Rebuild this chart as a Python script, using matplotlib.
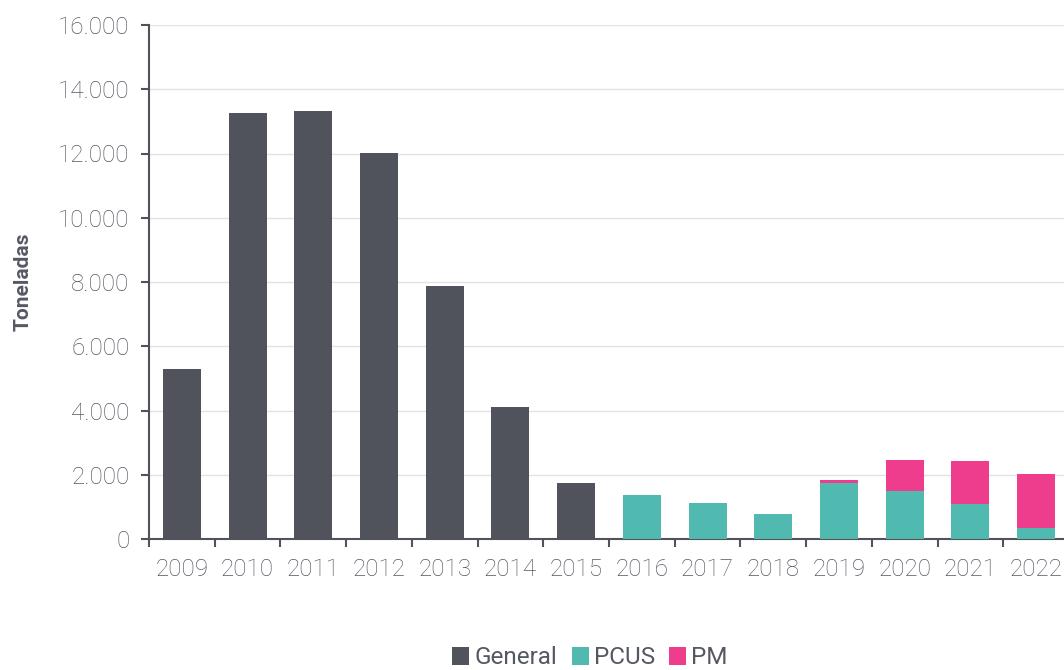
import matplotlib
matplotlib.use('Agg')
import matplotlib.pyplot as plt
import numpy as np
from matplotlib.ticker import FuncFormatter, FixedLocator

plt.rcParams['font.family'] = ['Roboto', 'DejaVu Sans']

years = ['2009', '2010', '2011', '2012', '2013', '2014', '2015',
         '2016', '2017', '2018', '2019', '2020', '2021', '2022']
general = [5300, 13270, 13330, 12020, 7880, 4110, 1740, 0, 0, 0, 0, 0, 0, 0]
pcus = [0, 0, 0, 0, 0, 0, 0, 1370, 1120, 780, 1745, 1495, 1080, 335]
pm = [0, 0, 0, 0, 0, 0, 0, 0, 0, 0, 90, 965, 1360, 1680]

c_general = '#50535c'
c_pcus = '#50b9b0'
c_pm = '#ee3d8d'
txt = '#545861'

fig = plt.figure(figsize=(10.64, 6.70), dpi=100)
ax = fig.add_axes([149 / 1064, 1 - 539 / 670, (1069 - 149) / 1064, (539 - 25) / 670])

x = np.arange(len(years))
w = 0.58
ax.bar(x, general, w, color=c_general, label='General', zorder=3)
ax.bar(x, pcus, w, bottom=general, color=c_pcus, label='PCUS', zorder=3)
bottom2 = np.array(general) + np.array(pcus)
ax.bar(x, pm, w, bottom=bottom2, color=c_pm, label='PM', zorder=3)

ax.set_xlim(-0.5, len(years) - 0.5)
ax.set_ylim(0, 16000)
ax.set_yticks(range(0, 16001, 2000))
ax.yaxis.set_major_formatter(FuncFormatter(lambda v, p: f'{int(v):,}'.replace(',', '.')))
ax.set_xticks(x)
ax.set_xticklabels(years)
ax.xaxis.set_minor_locator(FixedLocator(np.arange(-0.5, len(years), 1)))
ax.tick_params(axis='x', which='major', length=0, pad=14, labelsize=17.5, labelcolor=txt)
ax.tick_params(axis='x', which='minor', length=6, width=1.5, color=c_general, direction='out')
ax.tick_params(axis='y', length=6, width=1.5, color=c_general, labelsize=17.5, labelcolor=txt, pad=8)
for lab in ax.get_xticklabels() + ax.get_yticklabels():
    lab.set_fontweight('light')

ax.grid(axis='y', color='#e2e2e2', linewidth=1, zorder=0)
for s in ['top', 'right']:
    ax.spines[s].set_visible(False)
ax.spines['left'].set_color(c_general)
ax.spines['bottom'].set_color(c_general)
ax.spines['left'].set_linewidth(1.5)
ax.spines['bottom'].set_linewidth(1.5)

ax.set_ylabel('Toneladas', fontsize=15, fontweight='bold', color='#555962', labelpad=18)

fig.legend(loc='center', bbox_to_anchor=(590 / 1064, 1 - 658 / 670), ncol=3, frameon=False,
           fontsize=17.5, handlelength=0.7, handleheight=0.7, handletextpad=0.2,
           columnspacing=0.6, labelcolor=txt)

fig.savefig('out.png', dpi=100)
